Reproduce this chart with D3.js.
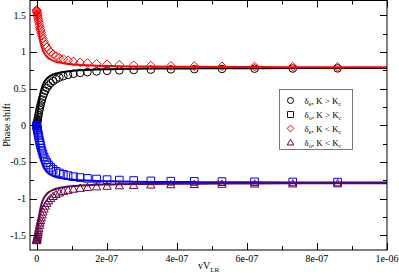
<!DOCTYPE html>
<html>
<head>
<meta charset="utf-8">
<script src="https://cdn.jsdelivr.net/npm/d3@7"></script>
<style>
  body { margin: 0; background: #fff; }
  text { font-family: "Liberation Serif", "DejaVu Serif", serif; }
</style>
</head>
<body>
<svg width="399" height="276"></svg>
<script>
// marker positions (vV_LR)
var xMarks = [0, 2e-10, 5e-10, 1e-9, 1.5e-9, 2.2e-9, 3e-9, 4e-9, 5e-9, 6.3e-9, 7.97e-9, 9.37e-9,
  1.10e-8, 1.29e-8, 1.52e-8, 1.78e-8, 2.10e-8, 2.46e-8, 2.90e-8, 3.40e-8, 4.00e-8, 4.70e-8,
  5.52e-8, 6.49e-8, 7.62e-8, 8.96e-8, 1.05e-7, 1.24e-7, 1.45e-7, 1.71e-7, 2.01e-7, 2.36e-7,
  2.77e-7, 3.26e-7, 3.83e-7, 4.50e-7, 5.29e-7, 6.22e-7, 7.31e-7, 8.59e-7];
// delta_e, K > Kc (circles)
var evenAbove = [0, 0.006, 0.014, 0.028, 0.042, 0.061, 0.083, 0.109, 0.136, 0.168, 0.209, 0.240,
  0.274, 0.311, 0.351, 0.390, 0.431, 0.470, 0.508, 0.542, 0.574, 0.602,
  0.628, 0.650, 0.669, 0.686, 0.701, 0.713, 0.724, 0.733, 0.741, 0.747,
  0.753, 0.758, 0.762, 0.765, 0.768, 0.771, 0.773, 0.775];
// delta_o, K > Kc (squares)
var oddAbove = [0, -0.006, -0.014, -0.028, -0.042, -0.061, -0.083, -0.109, -0.136, -0.168, -0.209, -0.240,
  -0.274, -0.311, -0.351, -0.390, -0.431, -0.470, -0.508, -0.542, -0.574, -0.602,
  -0.628, -0.650, -0.669, -0.686, -0.701, -0.713, -0.724, -0.733, -0.741, -0.747,
  -0.753, -0.758, -0.762, -0.765, -0.768, -0.771, -0.773, -0.775];
// delta_e, K < Kc (diamonds)
var evenBelow = [1.571, 1.565, 1.557, 1.543, 1.529, 1.510, 1.488, 1.462, 1.435, 1.403, 1.362, 1.331,
  1.297, 1.260, 1.220, 1.181, 1.140, 1.101, 1.063, 1.029, 0.997, 0.969,
  0.943, 0.921, 0.902, 0.885, 0.870, 0.858, 0.847, 0.838, 0.830, 0.824,
  0.818, 0.813, 0.809, 0.806, 0.803, 0.800, 0.798, 0.796];
// delta_o, K < Kc (triangles)
var oddBelow = [-1.571, -1.565, -1.557, -1.543, -1.529, -1.510, -1.488, -1.462, -1.435, -1.403, -1.362, -1.331,
  -1.297, -1.260, -1.220, -1.181, -1.140, -1.101, -1.063, -1.029, -0.997, -0.969,
  -0.943, -0.921, -0.902, -0.885, -0.870, -0.858, -0.847, -0.838, -0.830, -0.824,
  -0.818, -0.813, -0.809, -0.806, -0.803, -0.800, -0.798, -0.796];

// solid curves
var xLine = [0, 2e-10, 5e-10, 1e-9, 1.5e-9, 2.2e-9, 3e-9, 4e-9, 5e-9, 6.3e-9, 7.97e-9, 9.37e-9,
  1.10e-8, 1.29e-8, 1.52e-8, 1.78e-8, 2.10e-8, 2.46e-8, 2.90e-8, 3.40e-8, 4.00e-8, 4.70e-8,
  5.52e-8, 6.49e-8, 7.62e-8, 8.96e-8, 1.05e-7, 1.24e-7, 1.45e-7, 1.71e-7, 2.01e-7, 2.36e-7,
  2.77e-7, 3.26e-7, 3.83e-7, 4.50e-7, 5.29e-7, 6.22e-7, 7.31e-7, 8.59e-7, 1e-6];
var lineEvenAbove = [0, 0.011, 0.028, 0.055, 0.083, 0.120, 0.161, 0.209, 0.254, 0.305, 0.363, 0.403,
  0.443, 0.481, 0.518, 0.551, 0.583, 0.610, 0.635, 0.656, 0.675, 0.691,
  0.705, 0.717, 0.727, 0.735, 0.743, 0.749, 0.754, 0.759, 0.763, 0.766,
  0.769, 0.772, 0.774, 0.775, 0.777, 0.778, 0.779, 0.780, 0.781];
var lineOddAbove = [0, -0.011, -0.028, -0.055, -0.083, -0.120, -0.161, -0.209, -0.254, -0.305, -0.363, -0.403,
  -0.443, -0.481, -0.518, -0.551, -0.583, -0.610, -0.635, -0.656, -0.675, -0.691,
  -0.705, -0.717, -0.727, -0.735, -0.743, -0.749, -0.754, -0.759, -0.763, -0.766,
  -0.769, -0.772, -0.774, -0.775, -0.777, -0.778, -0.779, -0.780, -0.781];
var lineEvenBelow = [1.571, 1.560, 1.543, 1.516, 1.488, 1.451, 1.410, 1.362, 1.317, 1.266, 1.208, 1.168,
  1.128, 1.090, 1.053, 1.020, 0.988, 0.961, 0.936, 0.915, 0.896, 0.880,
  0.866, 0.854, 0.844, 0.836, 0.828, 0.822, 0.817, 0.812, 0.808, 0.805,
  0.802, 0.799, 0.797, 0.796, 0.794, 0.793, 0.792, 0.791, 0.790];
var lineOddBelow = [-1.571, -1.560, -1.543, -1.516, -1.488, -1.451, -1.410, -1.362, -1.317, -1.266, -1.208, -1.168,
  -1.128, -1.090, -1.053, -1.020, -0.988, -0.961, -0.936, -0.915, -0.896, -0.880,
  -0.866, -0.854, -0.844, -0.836, -0.828, -0.822, -0.817, -0.812, -0.808, -0.805,
  -0.802, -0.799, -0.797, -0.796, -0.794, -0.793, -0.792, -0.791, -0.790];

var xTicks = [0, 2e-7, 4e-7, 6e-7, 8e-7, 1e-6];
var xTickLabels = ["0", "2e-07", "4e-07", "6e-07", "8e-07", "1e-06"];
var xMinor = [1e-7, 3e-7, 5e-7, 7e-7, 9e-7];
var yTicks = [-1.5, -1, -0.5, 0, 0.5, 1, 1.5];
var yTickLabels = ["-1.5", "-1", "-0.5", "0", "0.5", "1", "1.5"];
var yMinor = [-1.25, -0.75, -0.25, 0.25, 0.75, 1.25];

var svg = d3.select("svg");
var pLeft = 30, pRight = 387, pTop = 0.5, pBottom = 250;

var x = d3.scaleLinear().domain([-1.9e-8, 1e-6]).range([pLeft, pRight]);
var y = d3.scaleLinear().domain([-1.7, 1.7]).range([pBottom, pTop]);

// marker shapes
function shape(kind, s) {
  if (kind == "circle") return d3.symbol().type(d3.symbolCircle).size(Math.PI * s * s)();
  if (kind == "square") return "M" + (-s) + "," + (-s) + "H" + s + "V" + s + "H" + (-s) + "Z";
  if (kind == "diamond") { var d = s * 1.15; return "M0," + (-d) + "L" + d + ",0L0," + d + "L" + (-d) + ",0Z"; }
  var t = s * 1.1;
  return "M0," + (-t) + "L" + t + "," + (t * 0.75) + "L" + (-t) + "," + (t * 0.75) + "Z";
}

var series = [
  {marks: evenAbove, line: lineEvenAbove, color: "#000000", kind: "circle", sub: "e", rel: ">"},
  {marks: oddAbove, line: lineOddAbove, color: "#0000ff", kind: "square", sub: "o", rel: ">"},
  {marks: evenBelow, line: lineEvenBelow, color: "#ff0000", kind: "diamond", sub: "e", rel: "<"},
  {marks: oddBelow, line: lineOddBelow, color: "#670748", kind: "triangle", sub: "o", rel: "<"}
];

var line = d3.line().x(function(d) { return x(d[0]); }).y(function(d) { return y(d[1]); })
  .curve(d3.curveMonotoneX);

var plot = svg.append("g");
series.forEach(function(s) {
  plot.append("g").selectAll("path")
    .data(d3.zip(xMarks, s.marks))
    .enter().append("path")
    .attr("d", shape(s.kind, 3.8))
    .attr("transform", function(d) { return "translate(" + x(d[0]) + "," + y(d[1]) + ")"; })
    .attr("fill", "none")
    .attr("stroke", s.color)
    .attr("stroke-width", 1);
  plot.append("path")
    .datum(d3.zip(xLine, s.line))
    .attr("d", line)
    .attr("fill", "none")
    .attr("stroke", s.color)
    .attr("stroke-width", 2);
});

// frame
svg.append("rect")
  .attr("x", pLeft).attr("y", pTop)
  .attr("width", pRight - pLeft).attr("height", pBottom - pTop)
  .attr("fill", "none").attr("stroke", "#000").attr("stroke-width", 1);

// ticks on all four sides, pointing inwards
var ticks = svg.append("g").attr("stroke", "#000").attr("stroke-width", 1);
function xt(v, len) {
  var px = Math.round(x(v)) + 0.5;
  ticks.append("line").attr("x1", px).attr("x2", px).attr("y1", pBottom).attr("y2", pBottom - len);
  ticks.append("line").attr("x1", px).attr("x2", px).attr("y1", pTop).attr("y2", pTop + len);
}
function yt(v, len) {
  var py = Math.round(y(v)) + 0.5;
  ticks.append("line").attr("x1", pLeft).attr("x2", pLeft + len).attr("y1", py).attr("y2", py);
  ticks.append("line").attr("x1", pRight).attr("x2", pRight - len).attr("y1", py).attr("y2", py);
}
xTicks.forEach(function(v) { xt(v, 7); });
xMinor.forEach(function(v) { xt(v, 4); });
yTicks.forEach(function(v) { yt(v, 7); });
yMinor.forEach(function(v) { yt(v, 4); });

svg.append("g").selectAll("text")
  .data(xTicks).enter().append("text")
  .attr("x", function(d) { return x(d); })
  .attr("y", 262)
  .attr("text-anchor", "middle")
  .attr("font-size", "10px")
  .text(function(d, i) { return xTickLabels[i]; });

svg.append("g").selectAll("text")
  .data(yTicks).enter().append("text")
  .attr("x", 26)
  .attr("y", function(d) { return y(d); })
  .attr("dy", "0.35em")
  .attr("text-anchor", "end")
  .attr("font-size", "10px")
  .text(function(d, i) { return yTickLabels[i]; });

// axis titles
var xl = svg.append("text").attr("x", 198).attr("y", 269).attr("font-size", "10px");
xl.append("tspan").text("vV");
xl.append("tspan").attr("dy", 3).attr("font-size", "7px").text("LR");

svg.append("text")
  .attr("transform", "translate(10,125) rotate(-90)")
  .attr("text-anchor", "middle")
  .attr("font-size", "10px")
  .text("Phase shift");

// legend
var lg = svg.append("g").attr("transform", "translate(279.5,89.5)");
lg.append("rect").attr("width", 73).attr("height", 60)
  .attr("fill", "#fff").attr("stroke", "#777").attr("stroke-width", 1);
series.forEach(function(s, i) {
  var row = 11 + i * 14;
  lg.append("path")
    .attr("d", shape(s.kind, 3))
    .attr("transform", "translate(11," + row + ")")
    .attr("fill", "none").attr("stroke", s.color).attr("stroke-width", 1);
  var t = lg.append("text").attr("x", 25).attr("y", row + 3).attr("font-size", "9px");
  t.append("tspan").text("\u03b4");
  t.append("tspan").attr("dy", 2).attr("font-size", "6px").text(s.sub);
  t.append("tspan").attr("dy", -2).text(", K " + s.rel + " K");
  t.append("tspan").attr("dy", 2).attr("font-size", "6px").text("c");
});
</script>
</body>
</html>
